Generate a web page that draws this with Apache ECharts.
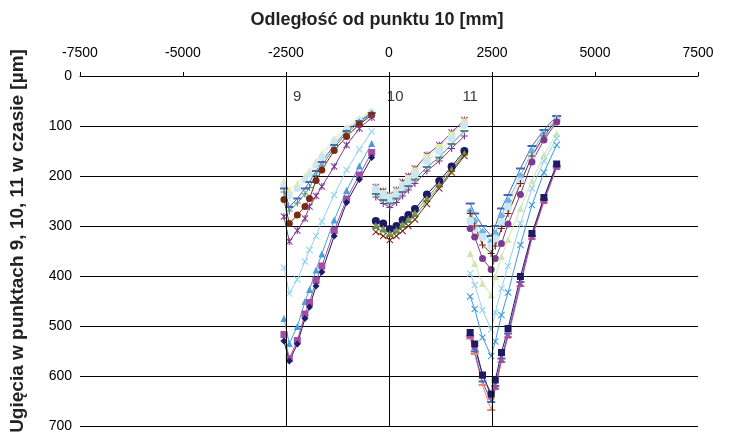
<!DOCTYPE html>
<html><head><meta charset="utf-8">
<script src="https://cdn.jsdelivr.net/npm/echarts@6/dist/echarts.min.js"></script>
<style>html,body{margin:0;padding:0;background:#fff}#c{width:734px;height:434px}</style>
</head><body><div id="c"></div>
<script>
// ---- positions (mm) of measurement points in each group ----
const pos9  = [-2550, -2420, -2225, -2040, -1930, -1770, -1630, -1330, -1030, -720, -420];
const pos10 = [-320, -140, 20, 180, 330, 470, 630, 920, 1220, 1520, 1830];
const pos11 = [1970, 2080, 2270, 2480, 2580, 2730, 2890, 3190, 3470, 3760, 4070];

// ---- group around point 9 (µm) ----
const g9Yellow   = [210, 228, 215, 200, 190, 170, 155, 125, 103, 85, 70];
const g9LightCir = [218, 240, 225, 208, 197, 178, 162, 130, 106, 88, 72];
const g9BlueDash = [225, 262, 245, 225, 212, 190, 172, 138, 110, 90, 74];
const g9TealPlus = [232, 270, 254, 236, 223, 199, 180, 143, 114, 93, 76];
const g9Brown    = [247, 295, 278, 261, 245, 209, 188, 149, 121, 97, 78];
const g9PurStar  = [281, 331, 309, 285, 261, 240, 221, 181, 138, 105, 83];
const g9CyanX    = [383, 435, 407, 371, 348, 320, 291, 238, 188, 147, 111];
const g9BlueTri  = [485, 535, 501, 451, 427, 388, 356, 288, 229, 180, 135];
const g9MagSq    = [517, 565, 529, 476, 453, 409, 380, 309, 246, 198, 153];
const g9Navy     = [530, 570, 536, 485, 462, 420, 392, 320, 253, 207, 163];

// ---- group around point 10 (µm) ----
const g10PurStar  = [222, 230, 238, 228, 212, 200, 185, 158, 138, 113, 88];
const g10Yellow   = [226, 235, 242, 232, 218, 205, 190, 163, 143, 118, 92];
const g10LightCir = [228, 238, 246, 236, 222, 210, 196, 170, 150, 124, 98];
const g10Teal     = [236, 248, 255, 245, 232, 220, 207, 182, 163, 136, 110];
const g10PurPlus  = [242, 255, 263, 253, 240, 228, 215, 190, 170, 145, 120];
const g10NavyCir  = [290, 295, 306, 300, 288, 278, 266, 237, 210, 181, 150];
const g10Olive    = [298, 304, 314, 307, 295, 285, 273, 244, 216, 186, 154];
const g10Green    = [304, 311, 320, 313, 302, 292, 280, 250, 221, 190, 157];
const g10BrownX   = [312, 320, 328, 320, 310, 300, 287, 256, 225, 193, 160];

// ---- group around point 11 (µm) ----
const g11BlueDash = [255, 275, 300, 320, 300, 265, 238, 185, 140, 108, 80];
const g11LBlueDia = [270, 290, 312, 332, 315, 280, 250, 200, 151, 115, 85];
const g11LightCir = [290, 305, 322, 340, 325, 292, 262, 211, 162, 125, 90];
const g11BrownPl  = [275, 300, 338, 355, 340, 305, 275, 215, 160, 120, 88];
const g11PurCir   = [305, 322, 365, 387, 365, 335, 296, 237, 172, 128, 92];
const g11LGreenTr = [355, 375, 415, 438, 401, 361, 327, 265, 210, 158, 115];
const g11CyanX    = [395, 418, 468, 507, 473, 425, 380, 295, 225, 170, 125];
const g11BlueX    = [441, 466, 523, 560, 531, 478, 433, 338, 258, 193, 138];
const g11Navy     = [513, 536, 598, 636, 608, 553, 505, 401, 315, 243, 176];
const g11MagTri   = [518, 541, 598, 640, 621, 567, 518, 415, 321, 249, 181];
const g11BlueDash2= [520, 551, 611, 652, 620, 565, 515, 412, 320, 247, 180];
const g11Salmon   = [525, 556, 618, 668, 625, 572, 522, 420, 325, 252, 184];

// ---- axis / annotation text ----
const xTickValues = [-7500, -5000, -2500, 0, 2500, 5000, 7500];
const pointNames = ['9', '10', '11'];
const pointNameX = [-2230, 150, 1970];
const pointNameY = [42, 42, 42];
const xTitle = 'Odległość od punktu 10 [mm]';
const yTitle = 'Ugięcia w punktach 9, 10, 11 w czasie [µm]';

// ---- marker shapes ----
const SYM = {
  x: 'path://M0,1L1,0L5,4L9,0L10,1L6,5L10,9L9,10L5,6L1,10L0,9L4,5Z',
  plus: 'path://M4.2,0H5.8V4.2H10V5.8H5.8V10H4.2V5.8H0V4.2H4.2Z',
  star: 'path://M0,1L1,0L5,4L9,0L10,1L6,5L10,9L9,10L5,6L1,10L0,9L4,5ZM4.3,0H5.7V10H4.3Z',
  dash: 'path://M0,0H10V2H0Z'
};
const C = {
  navy:'#1E1A66', mag:'#A24DA8', blueTri:'#4A9FDB', cyanX:'#8ED2EE', purple:'#7D3A8E',
  brown:'#7A2A10', teal:'#4C8A8A', blueDash:'#4767B2', yellow:'#E9E9A6', lightCir:'#CBE7F3',
  lgreen:'#D3E4B4', olive:'#7E9A45', green:'#5E8C4E', salmon:'#F08470', blueX:'#3A9ADA', lblue:'#6DB6E4'
};

function mk(xs, ys, color, symbol, size) {
  return {
    type: 'line', data: xs.map((x, i) => [x, ys[i]]),
    symbol: symbol, symbolSize: size, showSymbol: true,
    lineStyle: { color: color, width: 1 },
    itemStyle: { color: color },
    emphasis: { disabled: true }, animation: false, z: 3
  };
}

const series = [
  // group 9
  mk(pos9, g9Yellow, C.yellow, 'triangle', 7),
  mk(pos9, g9LightCir, C.lightCir, 'circle', 7),
  mk(pos9, g9BlueDash, C.blueDash, SYM.dash, [8, 2]),
  mk(pos9, g9TealPlus, C.teal, SYM.plus, 7),
  mk(pos9, g9Brown, C.brown, 'circle', 7),
  mk(pos9, g9PurStar, C.purple, SYM.star, 7),
  mk(pos9, g9CyanX, C.cyanX, SYM.x, 7),
  mk(pos9, g9BlueTri, C.blueTri, 'triangle', 7),
  mk(pos9, g9MagSq, C.mag, 'rect', 7),
  mk(pos9, g9Navy, C.navy, 'diamond', 7),
  // group 10
  mk(pos10, g10PurStar, C.purple, SYM.star, 7),
  mk(pos10, g10Yellow, C.yellow, 'rect', 7),
  mk(pos10, g10LightCir, C.lightCir, 'circle', 8),
  mk(pos10, g10Teal, C.teal, SYM.dash, [8, 2]),
  mk(pos10, g10PurPlus, C.purple, SYM.plus, 7),
  mk(pos10, g10NavyCir, C.navy, 'circle', 8),
  mk(pos10, g10Olive, C.olive, 'triangle', 6),
  mk(pos10, g10Green, C.green, SYM.dash, [7, 2]),
  mk(pos10, g10BrownX, C.brown, SYM.x, 7),
  // group 11
  mk(pos11, g11BlueDash, C.blueDash, SYM.dash, [9, 2]),
  mk(pos11, g11LBlueDia, C.lblue, 'diamond', 8),
  mk(pos11, g11LightCir, C.lightCir, 'circle', 8),
  mk(pos11, g11BrownPl, C.brown, SYM.plus, 7),
  mk(pos11, g11PurCir, C.purple, 'circle', 7),
  mk(pos11, g11LGreenTr, C.lgreen, 'triangle', 7),
  mk(pos11, g11CyanX, C.cyanX, SYM.x, 7),
  mk(pos11, g11BlueX, C.blueX, SYM.x, 7),
  mk(pos11, g11Salmon, C.salmon, SYM.dash, [8, 2]),
  mk(pos11, g11BlueDash2, C.blueDash, SYM.dash, [8, 2]),
  mk(pos11, g11MagTri, C.mag, 'triangle', 7),
  mk(pos11, g11Navy, C.navy, 'rect', 7)
];

// vertical reference lines at points 9 and 11
series[0].markLine = {
  silent: true, symbol: 'none', label: { show: false },
  lineStyle: { color: '#000', width: 1, type: 'solid' },
  data: [{ xAxis: -2500 }, { xAxis: 2500 }]
};

// point-number labels
series.push({
  type: 'scatter', symbolSize: 1, itemStyle: { color: 'rgba(0,0,0,0)' },
  data: pointNames.map((n, i) => ({ value: [pointNameX[i], pointNameY[i]], name: n })),
  label: { show: true, position: 'inside', formatter: p => p.name, color: '#000',
           fontSize: 15, fontFamily: 'Liberation Sans, Arial' },
  silent: true, animation: false, z: 5
});

const FONT = 'Liberation Sans, Arial, sans-serif';
const chart = echarts.init(document.getElementById('c'), null, { renderer: 'canvas' });
chart.setOption({
  backgroundColor: '#fff',
  animation: false,
  title: {
    text: xTitle, left: 372, top: 6, textAlign: 'center',
    textStyle: { fontFamily: FONT, fontSize: 18, fontWeight: 'bold', color: '#222' }
  },
  graphic: [{
    type: 'text', x: 18, y: 241, rotation: Math.PI / 2,
    style: { text: yTitle, font: 'bold 19px ' + FONT, fill: '#222',
             textAlign: 'center', textVerticalAlign: 'middle' }
  }],
  grid: { left: 80, right: 36, top: 76, bottom: 8, containLabel: false },
  xAxis: {
    type: 'value', position: 'top', min: -7500, max: 7500, interval: 2500,
    axisLine: { show: true, lineStyle: { color: '#000', width: 1 } },
    axisTick: { show: true, inside: false, length: 4, lineStyle: { color: '#000' } },
    axisLabel: { color: '#000', fontSize: 14, fontFamily: FONT, margin: 16,
                 formatter: v => xTickValues.includes(v) ? String(v) : '' },
    splitLine: { show: false }
  },
  yAxis: {
    type: 'value', inverse: true, min: 0, max: 700, interval: 100,
    axisLine: { show: true, lineStyle: { color: '#000', width: 1 } },
    axisTick: { show: true, length: 4, lineStyle: { color: '#000' } },
    axisLabel: { color: '#000', fontSize: 14, fontFamily: FONT, margin: 8 },
    splitLine: { show: true, lineStyle: { color: '#000', width: 1 } }
  },
  series: series
});
</script>
</body></html>
